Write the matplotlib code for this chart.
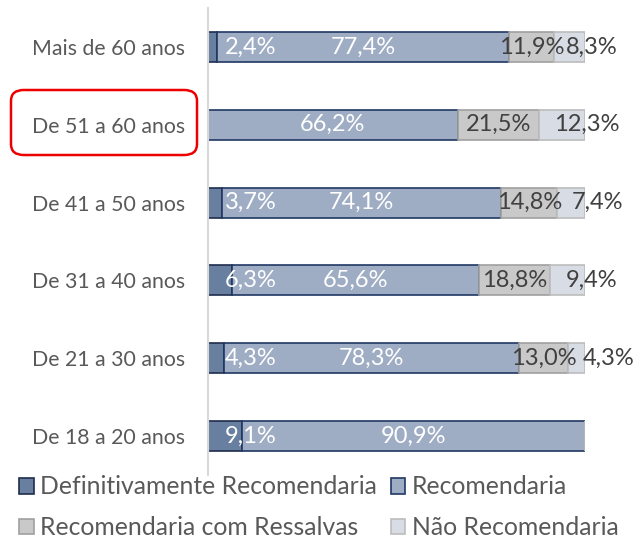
import matplotlib
matplotlib.use("Agg")
import matplotlib.pyplot as plt
from matplotlib.patches import FancyBboxPatch
import numpy as np

categories = ["Mais de 60 anos", "De 51 a 60 anos", "De 41 a 50 anos",
              "De 31 a 40 anos", "De 21 a 30 anos", "De 18 a 20 anos"]
series_names = ["Definitivamente Recomendaria", "Recomendaria",
                "Recomendaria com Ressalvas", "Não Recomendaria"]
definitivamente = [2.4, 0.0, 3.7, 6.3, 4.3, 9.1]
recomendaria = [77.4, 66.2, 74.1, 65.6, 78.3, 90.9]
ressalvas = [11.9, 21.5, 14.8, 18.8, 13.0, 0.0]
nao_recomendaria = [8.3, 12.3, 7.4, 9.4, 4.3, 0.0]

# style
FONT = ["Lato", "DejaVu Sans"]
face = ["#687f9f", "#9eacc4", "#c9c9c9", "#d7dce5"]
edge = ["#1f2d4d", "#203864", "#a0a0a0", "#bcbcbc"]
txtcol = ["white", "white", "#404040", "#404040"]
nao_label_shift = [5.9, 6.6, 7.1, 6.3, 8.6, 0.0]   # label offsets (layout)

plt.rcParams['font.family'] = FONT
fig = plt.figure(figsize=(6.39, 5.42), dpi=100)
ax = fig.add_axes([208/639, 67/542, 377/639, 467/542])

y = np.arange(len(categories))
data = [definitivamente, recomendaria, ressalvas, nao_recomendaria]
left = np.zeros(len(categories))
bars = []
for i, vals in enumerate(data):
    vals = np.array(vals)
    b = ax.barh(y, vals, left=left, height=0.386, color=face[i],
                edgecolor=edge[i], linewidth=1.2, label=series_names[i])
    bars.append(b)
    for j, v in enumerate(vals):
        if v <= 0:
            continue
        txt = f"{v:.1f}%".replace(".", ",")
        if i == 0:
            ax.text(4.5, y[j], txt, ha="left", va="center", color=txtcol[i],
                    fontsize=17, clip_on=False)
        else:
            cx = left[j] + v / 2
            if i == 3:
                cx += nao_label_shift[j]
            ax.text(cx, y[j], txt, ha="center", va="center", color=txtcol[i],
                    fontsize=17, clip_on=False)
    left = left + vals

ax.set_xlim(0, 100)
ax.set_ylim(len(categories) - 0.5, -0.5)
ax.set_yticks(y)
ax.set_yticklabels(categories, fontsize=15.3, color="#595959")
ax.tick_params(axis="y", length=0, pad=16.5)
ax.set_xticks([])
for s in ["top", "right", "bottom"]:
    ax.spines[s].set_visible(False)
ax.spines["left"].set_color("#d9d9d9")
ax.spines["left"].set_linewidth(1.5)

# red rounded highlight box around "De 51 a 60 anos"
box = FancyBboxPatch((11/639, (542-155)/542), 186/639, 65/542,
                     boxstyle="round,pad=0,rounding_size=0.02",
                     transform=fig.transFigure, fill=False,
                     edgecolor="#ee0000", linewidth=1.8)
fig.patches.append(box)

handles = [bars[0], bars[2], bars[1], bars[3]]
labels = [series_names[0], series_names[2], series_names[1], series_names[3]]
leg = fig.legend(handles, labels, ncol=2, loc="lower left",
                 bbox_to_anchor=(-0.005, -0.036), frameon=False,
                 fontsize=17.8, handlelength=0.6, handleheight=0.6,
                 handletextpad=0.25, columnspacing=0.55, labelspacing=0.72,
                 labelcolor="#595959")

fig.savefig("out.png", dpi=100)
